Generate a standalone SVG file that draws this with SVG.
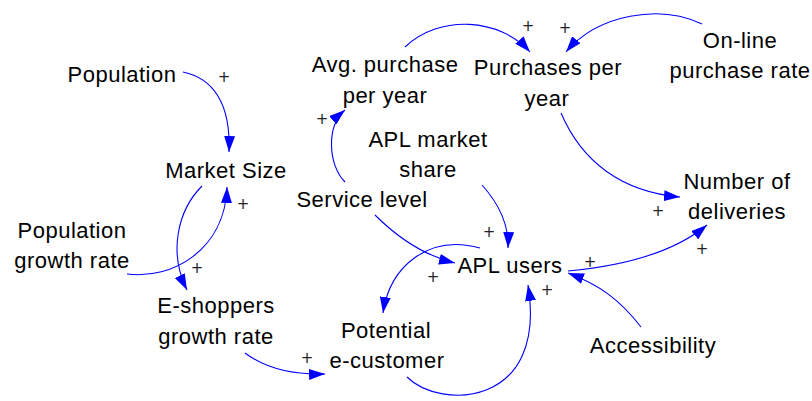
<svg xmlns="http://www.w3.org/2000/svg" width="812" height="401" viewBox="0 0 812 401">
<style>
.t{font-family:"Liberation Sans",Arial,sans-serif;font-size:22px;letter-spacing:0.5px;fill:#000;text-anchor:middle}
.p{font-family:"DejaVu Sans",sans-serif;font-size:15px;fill:#222;text-anchor:middle}
.c{fill:none;stroke:#0000ff;stroke-width:1.1;marker-end:url(#ah)}
</style>
<defs>
<marker id="ah" markerUnits="userSpaceOnUse" markerWidth="16" markerHeight="11" viewBox="0 0 16 11" refX="16" refY="5.5" orient="auto">
<path d="M0,0 L16,5.5 L0,11 z" fill="#0000ff"/>
</marker>
</defs>
<rect width="812" height="401" fill="#fff"/>
<g id="connectors">
<path class="c" d="M183,72 C212,78 231,102 229,152"/>
<path class="c" d="M127,274 C172,280 225,250 227,187"/>
<path class="c" d="M202,186 C178,210 168,252 187,290"/>
<path class="c" d="M245,353 C265,368 292,375 325,374"/>
<path class="c" d="M405,47 C440,14 500,18 530,52"/>
<path class="c" d="M702,24 C660,4 598,14 566,52"/>
<path class="c" d="M345,182 C328,165 326,126 345,110"/>
<path class="c" d="M561,113 C582,162 622,192 680,197"/>
<path class="c" d="M482,185 C500,205 509,225 508,248"/>
<path class="c" d="M375,215 C400,240 426,256 455,263"/>
<path class="c" d="M480,248 C430,234 390,265 383,313"/>
<path class="c" d="M407,377 C440,410 548,408 528,285"/>
<path class="c" d="M568,271 C622,266 672,254 707,225"/>
<path class="c" d="M641,327 C620,300 600,285 568,273"/>
</g>
<g id="signs">
<text class="p" x="224" y="82">+</text>
<text class="p" x="243" y="209">+</text>
<text class="p" x="197" y="273">+</text>
<text class="p" x="307" y="363">+</text>
<text class="p" x="528" y="31">+</text>
<text class="p" x="565" y="33">+</text>
<text class="p" x="322" y="124">+</text>
<text class="p" x="658" y="216">+</text>
<text class="p" x="489" y="237">+</text>
<text class="p" x="433" y="282">+</text>
<text class="p" x="547" y="295">+</text>
<text class="p" x="590" y="267">+</text>
<text class="p" x="702" y="254">+</text>
</g>
<g id="population"><text class="t" x="122" y="82">Population</text></g>
<g id="market-size"><text class="t" x="226" y="178">Market Size</text></g>
<g id="population-growth-rate"><text class="t" x="72" y="238">Population</text><text class="t" x="72" y="268">growth rate</text></g>
<g id="e-shoppers-growth-rate"><text class="t" x="216" y="313">E-shoppers</text><text class="t" x="216" y="344">growth rate</text></g>
<g id="avg-purchase"><text class="t" x="385" y="72">Avg. purchase</text><text class="t" x="385" y="103">per year</text></g>
<g id="purchases-per-year"><text class="t" x="548" y="75">Purchases per</text><text class="t" x="547" y="106">year</text></g>
<g id="online-purchase-rate"><text class="t" x="740" y="48">On-line</text><text class="t" x="740" y="78">purchase rate</text></g>
<g id="apl-market-share"><text class="t" x="428" y="147">APL market</text><text class="t" x="428" y="177">share</text></g>
<g id="service-level"><text class="t" x="362" y="207">Service level</text></g>
<g id="number-of-deliveries"><text class="t" x="737" y="189">Number of</text><text class="t" x="737" y="219">deliveries</text></g>
<g id="apl-users"><text class="t" x="510" y="273">APL users</text></g>
<g id="potential-e-customer"><text class="t" x="386" y="338">Potential</text><text class="t" x="387" y="368">e-customer</text></g>
<g id="accessibility"><text class="t" x="653" y="353">Accessibility</text></g>
</svg>
